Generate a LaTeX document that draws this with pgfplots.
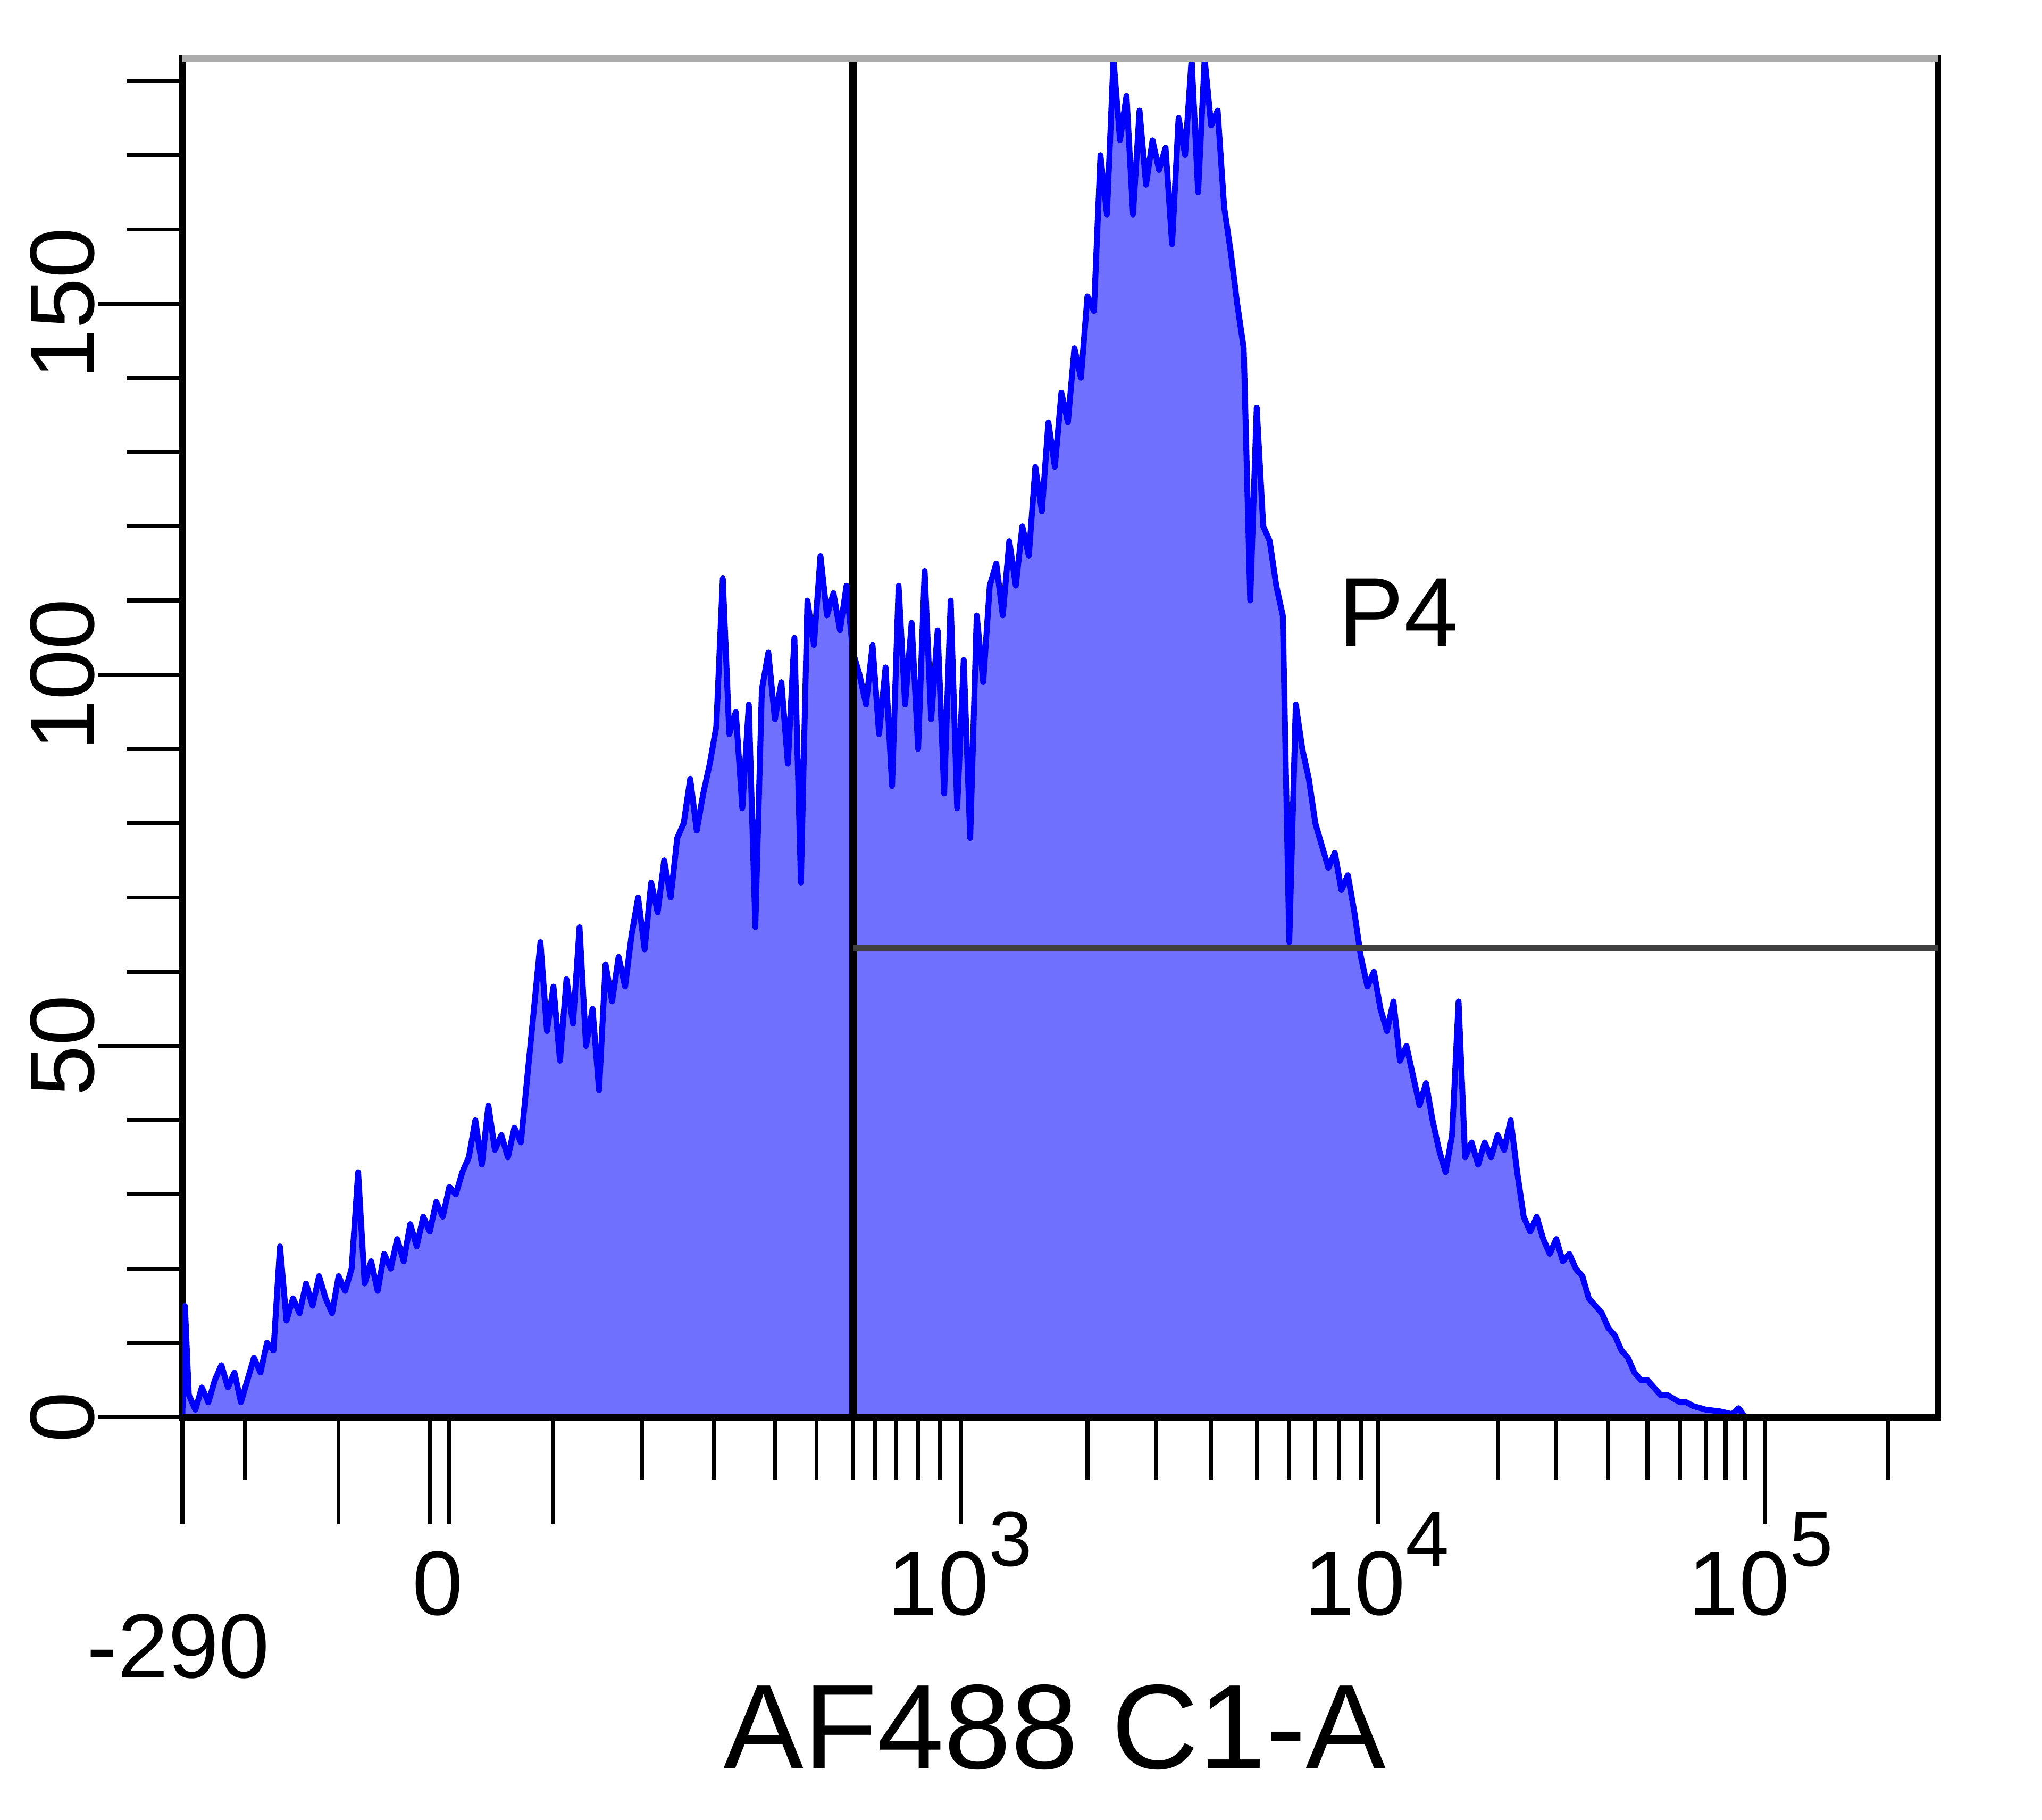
\documentclass[border=0pt]{standalone}
\usepackage{pgfplots}
\pgfplotsset{compat=1.18}
\usepackage{fontspec}
\setmainfont{Liberation Sans}
\definecolor{histfill}{RGB}{112,112,255}
\definecolor{histline}{RGB}{0,0,255}
\pgfplotstableread{
x y
140 0
142 15
145 3
150 1
155 4
160 2
165 5
170 7
175 4
180 6
185 2
190 5
195 8
200 6
205 10
210 9
215 23
220 13
225 16
230 14
235 18
240 15
245 19
250 16
255 14
260 19
265 17
270 20
275 33
280 18
285 21
290 17
295 22
300 20
305 24
310 21
315 26
320 23
325 27
330 25
335 29
340 27
345 31
350 30
355 33
360 35
365 40
370 34
375 42
380 36
385 38
390 35
395 39
400 37
405 46
410 55
415 64
420 52
425 58
430 48
435 59
440 53
445 66
450 50
455 55
460 44
465 61
470 56
475 62
480 58
485 65
490 70
495 63
500 72
505 68
510 75
515 70
520 78
525 80
530 86
535 79
540 84
545 88
550 93
555 113
560 92
565 95
570 82
575 96
580 66
585 98
590 103
595 94
600 99
605 88
610 105
615 72
620 110
625 104
630 116
635 108
640 111
645 106
650 112
655 103
660 100
665 96
670 104
675 92
680 101
685 85
690 112
695 96
700 107
705 90
710 114
715 94
720 106
725 84
730 110
735 82
740 102
745 78
750 108
755 99
760 112
765 115
770 108
775 118
780 112
785 120
790 116
795 128
800 122
805 134
810 128
815 138
820 134
825 144
830 140
835 151
840 149
845 170
850 162
855 183
860 172
865 178
870 162
875 176
880 166
885 172
890 168
895 171
900 158
905 175
910 170
915 183
920 165
925 183
930 174
935 176
940 163
945 157
950 150
955 144
960 110
965 136
970 120
975 118
980 112
985 108
990 64
995 96
1000 90
1005 86
1010 80
1015 77
1020 74
1025 76
1030 71
1035 73
1040 68
1045 62
1050 58
1055 60
1060 55
1065 52
1070 56
1075 48
1080 50
1085 46
1090 42
1095 45
1100 40
1105 36
1110 33
1115 38
1120 56
1125 35
1130 37
1135 34
1140 37
1145 35
1150 38
1155 36
1160 40
1165 33
1170 27
1175 25
1180 27
1185 24
1190 22
1195 24
1200 21
1205 22
1210 20
1215 19
1220 16
1225 15
1230 14
1235 12
1240 11
1245 9
1250 8
1255 6
1260 5
1265 5
1270 4
1275 3
1280 3
1285 2.5
1290 2
1295 2
1300 1.5
1310 1
1320 0.8
1330 0.4
1335 1.2
1340 0
}\histdata
\begin{document}
\begin{tikzpicture}
\path[use as bounding box] (-28pt,-61.8pt) rectangle (285.6pt,217.6pt);
\begin{axis}[
  at={(0,0)}, anchor=south west,
  scale only axis, width=269.6pt, height=208.6pt,
  xmin=140, xmax=1488, ymin=0, ymax=183,
  clip mode=individual,
  axis line style={line width=1pt},
  xtick=\empty,
  ytick={0,50,100,150},
  minor ytick={10,20,30,40,60,70,80,90,110,120,130,140,160,170,180},
  yticklabels={},
  ytick pos=left,
  tick align=outside,
  major tick length=13pt, minor tick length=8.6pt,
  every tick/.style={black, line width=0.6pt},
]
\addplot[fill=histfill, draw=none] table[x=x,y=y] {\histdata} \closedcycle;
\addplot[histline, line width=0.9pt, line join=round] table[x=x,y=y] {\histdata};
% gate lines
\addplot[black, line width=1.1pt] coordinates {(655,0)(655,183)};
\addplot[black!75, line width=1pt] coordinates {(655,63.2)(1488,63.2)};
% top frame in gray
\draw[gray!65, line width=1pt] (rel axis cs:0,1) -- (rel axis cs:1,1);
% labels
\node[font=\fontsize{15}{15}\selectfont] at (axis cs:1074,108.4) {P4};
\node[rotate=90, font=\fontsize{14}{14}\selectfont] at ([xshift=-18.4pt]axis cs:140,0) {0};
\node[rotate=90, font=\fontsize{14}{14}\selectfont] at ([xshift=-18.4pt]axis cs:140,50) {50};
\node[rotate=90, font=\fontsize{14}{14}\selectfont] at ([xshift=-18.4pt]axis cs:140,100) {100};
\node[rotate=90, font=\fontsize{14}{14}\selectfont] at ([xshift=-18.4pt]axis cs:140,150) {150};
\node[anchor=base, font=\fontsize{14}{14}\selectfont, inner sep=0pt] at ([yshift=-40pt]axis cs:137,0) {-290};
\node[anchor=base, font=\fontsize{14}{14}\selectfont, inner sep=0pt] at ([yshift=-30.4pt]axis cs:336,0) {0};
\node[anchor=base, font=\fontsize{14}{14}\selectfont, inner sep=0pt] at ([yshift=-30.4pt]axis cs:737,0) {10\raisebox{7.5pt}{\fontsize{12}{12}\selectfont 3}};
\node[anchor=base, font=\fontsize{14}{14}\selectfont, inner sep=0pt] at ([yshift=-30.4pt]axis cs:1057,0) {10\raisebox{7.5pt}{\fontsize{12}{12}\selectfont 4}};
\node[anchor=base, font=\fontsize{14}{14}\selectfont, inner sep=0pt] at ([yshift=-30.4pt]axis cs:1352,0) {10\raisebox{7.5pt}{\fontsize{12}{12}\selectfont 5}};
\node[anchor=base, font=\fontsize{18.5}{18.5}\selectfont, inner sep=0pt] at ([yshift=-54pt]axis cs:810,0) {AF488 C1-A};
\end{axis}
\begin{axis}[
  at={(0,0)}, anchor=south west,
  scale only axis, width=269.6pt, height=208.6pt,
  xmin=140, xmax=1488, ymin=0, ymax=183,
  axis x line*=bottom, axis y line=none,
  axis line style={line width=1pt, -},
  xtick={140,260,330,345,425,738,1058,1355},
  minor xtick={188,493,548,595,627,655,672,688,705,722,835,888,930,965,990,1010,1028,1045,1150,1195,1235,1265,1290,1310,1325,1340,1450},
  xticklabels={},
  tick align=outside,
  major tick length=16.4pt, minor tick length=9.6pt,
  every tick/.style={black, line width=0.6pt},
]
\end{axis}
\end{tikzpicture}
\end{document}
